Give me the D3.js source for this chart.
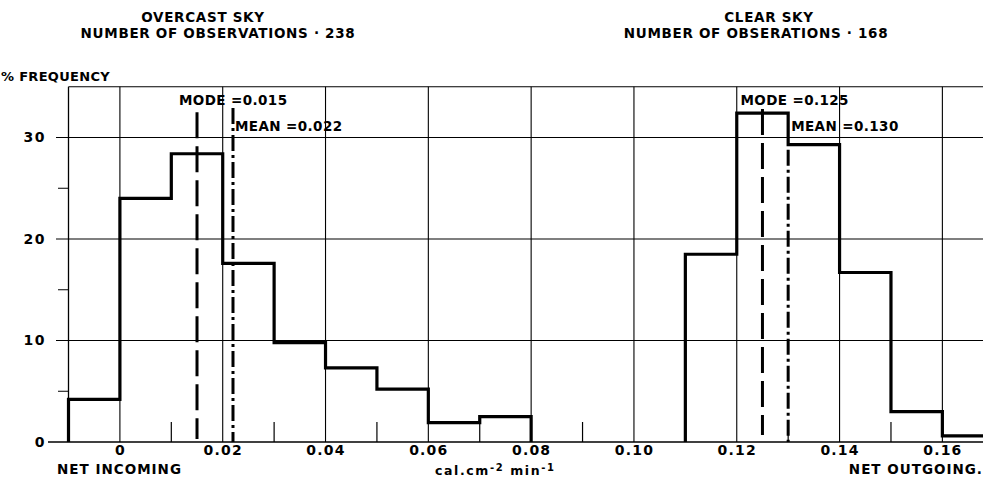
<!DOCTYPE html>
<html>
<head>
<meta charset="utf-8">
<script src="https://cdn.jsdelivr.net/npm/d3@7"></script>
<style>
  html, body { margin: 0; padding: 0; background: #fff; }
  svg { display: block; }
  text { font-family: "DejaVu Sans", "Liberation Sans", sans-serif; font-weight: bold; fill: #000; }
</style>
</head>
<body>
<svg id="chart" width="983" height="479"></svg>
<script>
// Net long-wave radiation frequency distributions (bin width 0.01 cal cm-2 min-1)
const binWidth = 0.01;

const overcastBins = [-0.01, 0.00, 0.01, 0.02, 0.03, 0.04, 0.05, 0.06, 0.07];
const overcastFreq = [4.2, 24.0, 28.4, 17.6, 9.8, 7.3, 5.2, 1.9, 2.5];

const clearBins = [0.11, 0.12, 0.13, 0.14, 0.15, 0.16];
const clearFreq = [18.5, 32.4, 29.3, 16.7, 3.0, 0.6];

const overcastStats = { mode: 0.015, mean: 0.022, n: 238 };
const clearStats = { mode: 0.125, mean: 0.130, n: 168 };

const xTickValues = [0, 0.02, 0.04, 0.06, 0.08, 0.10, 0.12, 0.14, 0.16];
const xTickLabels = ["0", "0.02", "0.04", "0.06", "0.08", "0.10", "0.12", "0.14", "0.16"];
const xMinorTicks = [0.01, 0.03, 0.05, 0.07, 0.09, 0.11, 0.13, 0.15];
const yTickValues = [0, 10, 20, 30];
const yMinorTicks = [5, 15, 25];

const svg = d3.select("#chart");
const W = 983;

const x = d3.scaleLinear().domain([-0.01, 0.168]).range([68.5, 983.5]);
const y = d3.scaleLinear().domain([0, 35]).range([442, 86.75]);

const g = svg.append("g");

// Horizontal grid lines
g.selectAll("line.hgrid").data(yTickValues.filter(d => d > 0)).join("line")
  .attr("x1", 56).attr("x2", W).attr("y1", d => y(d)).attr("y2", d => y(d))
  .attr("stroke", "#000").attr("stroke-width", 1.1);
// Top border
g.append("line").attr("x1", x(-0.01)).attr("x2", W).attr("y1", y(35)).attr("y2", y(35))
  .attr("stroke", "#000").attr("stroke-width", 1.1);
// Baseline
g.append("line").attr("x1", 48).attr("x2", W).attr("y1", y(0)).attr("y2", y(0))
  .attr("stroke", "#000").attr("stroke-width", 1.3);

// Vertical grid lines
g.selectAll("line.vgrid").data(xTickValues).join("line")
  .attr("x1", d => x(d)).attr("x2", d => x(d)).attr("y1", y(0)).attr("y2", y(35))
  .attr("stroke", "#000").attr("stroke-width", 1.1);
// Left axis line
g.append("line").attr("x1", x(-0.01)).attr("x2", x(-0.01)).attr("y1", y(0)).attr("y2", y(35))
  .attr("stroke", "#000").attr("stroke-width", 1.3);

// Minor ticks
g.selectAll("line.xminor").data(xMinorTicks).join("line")
  .attr("x1", d => x(d)).attr("x2", d => x(d)).attr("y1", y(0)).attr("y2", y(0) - 20)
  .attr("stroke", "#000").attr("stroke-width", 1.2);
g.selectAll("line.yminor").data(yMinorTicks).join("line")
  .attr("x1", 58).attr("x2", x(-0.01)).attr("y1", d => y(d)).attr("y2", d => y(d))
  .attr("stroke", "#000").attr("stroke-width", 1);

// Axes (labels only, lines drawn above)
const xAxis = d3.axisBottom(x).tickValues(xTickValues)
  .tickFormat((d, i) => xTickLabels[i]).tickSize(0).tickPadding(2);
const xg = svg.append("g").attr("transform", `translate(0,${y(0)})`).call(xAxis);
xg.select(".domain").remove();
xg.selectAll("text").attr("font-size", 14).attr("font-family", null)
  .attr("letter-spacing", 1.2).attr("dy", "0.82em");

const yAxis = d3.axisLeft(y).tickValues(yTickValues).tickSize(0).tickPadding(0);
const yg = svg.append("g").attr("transform", `translate(46,0)`).call(yAxis);
yg.select(".domain").remove();
yg.selectAll("text").attr("font-size", 14).attr("font-family", null).attr("letter-spacing", 1.5);

// Step outline of a histogram
function stepPoints(bins, freq) {
  const pts = [[bins[0], 0]];
  bins.forEach((b, i) => {
    pts.push([b, freq[i]]);
    pts.push([b + binWidth, freq[i]]);
  });
  pts.push([bins[bins.length - 1] + binWidth, 0]);
  return pts;
}
const stepLine = d3.line().x(d => x(d[0])).y(d => y(d[1]));

[[overcastBins, overcastFreq], [clearBins, clearFreq]].forEach(([b, f]) => {
  svg.append("path").attr("d", stepLine(stepPoints(b, f)))
    .attr("fill", "none").attr("stroke", "#000").attr("stroke-width", 3.2)
    .attr("stroke-linejoin", "miter");
});

// Mode (long dash) and mean (dash-dot) markers
const markers = [
  { v: overcastStats.mode, y0: 0.3, y1: 32.5, dash: "26,8" },
  { v: overcastStats.mean, y0: 0, y1: 32.9, dash: "16,4,3,4" },
  { v: clearStats.mode, y0: 0.7, y1: 32.8, dash: "26,8" },
  { v: clearStats.mean, y0: 0, y1: 28.8, dash: "16,4,3,4" }
];
svg.selectAll("line.marker").data(markers).join("line")
  .attr("x1", d => x(d.v)).attr("x2", d => x(d.v))
  .attr("y1", d => y(d.y1)).attr("y2", d => y(d.y0))
  .attr("stroke", "#000").attr("stroke-width", 3).attr("stroke-dasharray", d => d.dash);

// Marker annotations
const fmt = d3.format(".3f");
const notes = [
  { t: `MODE =${fmt(overcastStats.mode)}`, v: overcastStats.mode, dx: -18, yy: 105 },
  { t: `MEAN =${fmt(overcastStats.mean)}`, v: overcastStats.mean, dx: 2, yy: 131 },
  { t: `MODE =${fmt(clearStats.mode)}`, v: clearStats.mode, dx: -22, yy: 105 },
  { t: `MEAN =${fmt(clearStats.mean)}`, v: clearStats.mean, dx: 3, yy: 131 }
];
svg.selectAll("text.note").data(notes).join("text")
  .attr("x", d => x(d.v) + d.dx).attr("y", d => d.yy)
  .attr("font-size", 13.5).attr("letter-spacing", 0.4).text(d => d.t);

// Titles
function title(cx, yy, t) {
  svg.append("text").attr("x", cx).attr("y", yy).attr("text-anchor", "middle")
    .attr("font-size", 13.5).attr("letter-spacing", 0.7).text(t);
}
title(203, 22, "OVERCAST  SKY");
title(218, 38, `NUMBER  OF  OBSERVATIONS · ${overcastStats.n}`);
title(769, 22, "CLEAR  SKY");
title(756, 38, `NUMBER  OF  OBSERATIONS · ${clearStats.n}`);

svg.append("text").attr("x", 1).attr("y", 81).attr("font-size", 13)
  .attr("letter-spacing", 0.3).text("% FREQUENCY");

// Axis captions
svg.append("text").attr("x", 57).attr("y", 474).attr("font-size", 13.5)
  .attr("letter-spacing", 1).text("NET  INCOMING");
const unit = svg.append("text").attr("x", 435).attr("y", 475).attr("font-size", 12.5)
  .attr("letter-spacing", 1.6);
unit.append("tspan").text("cal.cm");
unit.append("tspan").attr("dy", -4).attr("font-size", 10).text("-2");
unit.append("tspan").attr("dy", 4).text(" min");
unit.append("tspan").attr("dy", -4).attr("font-size", 10).text("-1");
svg.append("text").attr("x", 983).attr("y", 474).attr("text-anchor", "end")
  .attr("font-size", 13.5).attr("letter-spacing", 1).text("NET  OUTGOING.");
</script>
</body>
</html>
